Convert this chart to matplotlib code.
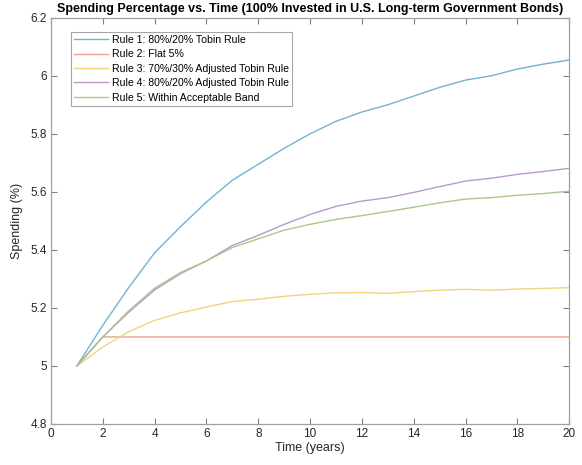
import matplotlib
matplotlib.use('Agg')
import matplotlib.pyplot as plt

plt.rcParams['font.family'] = ['Liberation Sans', 'DejaVu Sans']

years = list(range(1, 21))

rule1 = [5.00, 5.14, 5.27, 5.39, 5.48, 5.565, 5.64, 5.695, 5.75, 5.80,
         5.843, 5.875, 5.90, 5.93, 5.96, 5.985, 6.00, 6.023, 6.04, 6.054]
rule2 = [5.00] + [5.10] * 19
rule3 = [5.00, 5.065, 5.118, 5.157, 5.183, 5.203, 5.222, 5.230, 5.240, 5.247,
         5.252, 5.253, 5.250, 5.256, 5.261, 5.264, 5.261, 5.265, 5.267, 5.270]
rule4 = [5.00, 5.10, 5.185, 5.262, 5.318, 5.362, 5.415, 5.45, 5.488, 5.522,
         5.550, 5.568, 5.580, 5.598, 5.618, 5.637, 5.647, 5.660, 5.670, 5.681]
rule5 = [5.00, 5.10, 5.19, 5.268, 5.322, 5.362, 5.408, 5.438, 5.468, 5.488,
         5.505, 5.518, 5.532, 5.547, 5.562, 5.575, 5.580, 5.588, 5.594, 5.602]

labels = ['Rule 1: 80%/20% Tobin Rule',
          'Rule 2: Flat 5%',
          'Rule 3: 70%/30% Adjusted Tobin Rule',
          'Rule 4: 80%/20% Adjusted Tobin Rule',
          'Rule 5: Within Acceptable Band']
colors = ['#72b3d3', '#e9a38a', '#f0d47e', '#b99ac9', '#a9c98a']

fig = plt.figure(figsize=(5.82, 4.65), dpi=100)
ax = fig.add_axes([0.0876, 0.0882, 0.8906, 0.8738])

for series, lab, col in zip([rule1, rule2, rule3, rule4, rule5], labels, colors):
    ax.plot(years, series, color=col, linewidth=1.0, label=lab)

ax.set_xlim(0, 20)
ax.set_ylim(4.8, 6.2)
ax.set_xticks(range(0, 21, 2))
ax.set_yticks([4.8, 5.0, 5.2, 5.4, 5.6, 5.8, 6.0, 6.2])
ax.set_yticklabels(['4.8', '5', '5.2', '5.4', '5.6', '5.8', '6', '6.2'])

axis_col = '#a0a0a0'
for sp in ax.spines.values():
    sp.set_color(axis_col)
    sp.set_linewidth(0.9)
ax.tick_params(direction='in', length=4, width=0.8, color='#808080',
               top=True, right=True, labelsize=8.5, labelcolor='#262626', pad=3)

ax.set_xlabel('Time (years)', fontsize=9, color='#262626', labelpad=1)
ax.set_ylabel('Spending (%)', fontsize=9, color='#262626', labelpad=5)
ax.set_title('Spending Percentage vs. Time (100% Invested in U.S. Long-term Government Bonds)',
             fontsize=9, fontweight='bold', pad=4)

# legend box in the upper-left corner, like MATLAB's default
leg = ax.legend(loc='upper left', bbox_to_anchor=(0.0386, 0.9655), fontsize=7.6,
                frameon=True, fancybox=False, edgecolor='#909090',
                handlelength=3.2, handletextpad=0.4, borderpad=0.3,
                labelspacing=0.42, borderaxespad=0)
leg.get_frame().set_linewidth(0.8)

fig.savefig('out.png', dpi=100)
